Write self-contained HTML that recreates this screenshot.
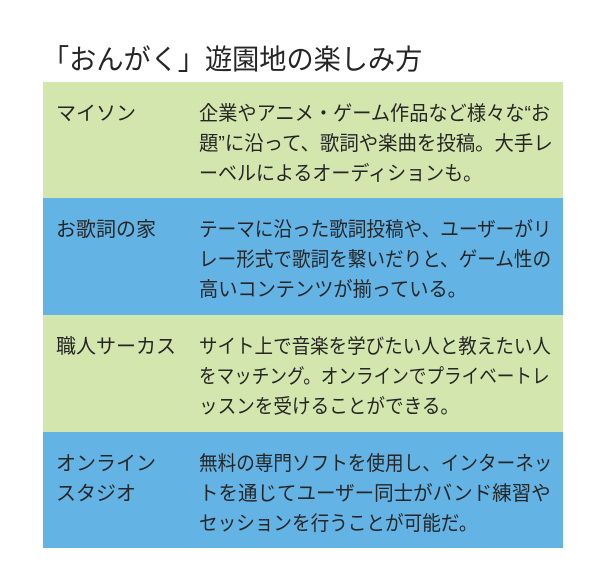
<!DOCTYPE html>
<html><head><meta charset="utf-8"><style>
body{margin:0;width:600px;height:588px;background:#fff;position:relative;font-family:"Liberation Sans","Noto Sans CJK JP",sans-serif;color:#262626;overflow:hidden}
.t{position:absolute;left:42px;top:38px;font-size:28px;white-space:nowrap;transform:scaleX(0.97);transform-origin:left}
.r{position:absolute;left:43px;width:520px}
.g{background:#d3e6ad}.b{background:#64b3e5}
.l{position:absolute;left:13px;top:17px;font-size:20px;line-height:30px;white-space:nowrap}
.d{position:absolute;left:156px;top:17px;font-size:20px;line-height:30px;white-space:nowrap}
.d span,.l span{display:block;transform-origin:left;}
</style></head><body>
<div class="t">「おんがく」遊園地の楽しみ方</div>
<div class="r g" style="top:82px;height:116px">
<div class="l"><span>マイソン</span></div>
<div class="d"><span style="transform:scaleX(.96)">企業やアニメ・ゲーム作品など様々な“お</span><span style="transform:scaleX(.97)">題”に沿って、歌詞や楽曲を投稿。大手レ</span><span style="transform:scaleX(.95)">ーベルによるオーディションも。</span></div>
</div>
<div class="r b" style="top:198px;height:117px">
<div class="l"><span>お歌詞の家</span></div>
<div class="d"><span style="transform:scaleX(.93)">テーマに沿った歌詞投稿や、ユーザーがリ</span><span style="transform:scaleX(.93)">レー形式で歌詞を繋いだりと、ゲーム性の</span><span style="transform:scaleX(.96)">高いコンテンツが揃っている。</span></div>
</div>
<div class="r g" style="top:315px;height:117px">
<div class="l"><span>職人サーカス</span></div>
<div class="d"><span style="transform:scaleX(.926)">サイト上で音楽を学びたい人と教えたい人</span><span style="transform:scaleX(.88)">をマッチング。オンラインでプライベートレ</span><span style="transform:scaleX(.93)">ッスンを受けることができる。</span></div>
</div>
<div class="r b" style="top:432px;height:116px">
<div class="l"><span>オンライン</span><span>スタジオ</span></div>
<div class="d"><span style="transform:scaleX(.93)">無料の専門ソフトを使用し、インターネッ</span><span style="transform:scaleX(.975)">トを通じてユーザー同士がバンド練習や</span><span style="transform:scaleX(.93)">セッションを行うことが可能だ。</span></div>
</div>
</body></html>
